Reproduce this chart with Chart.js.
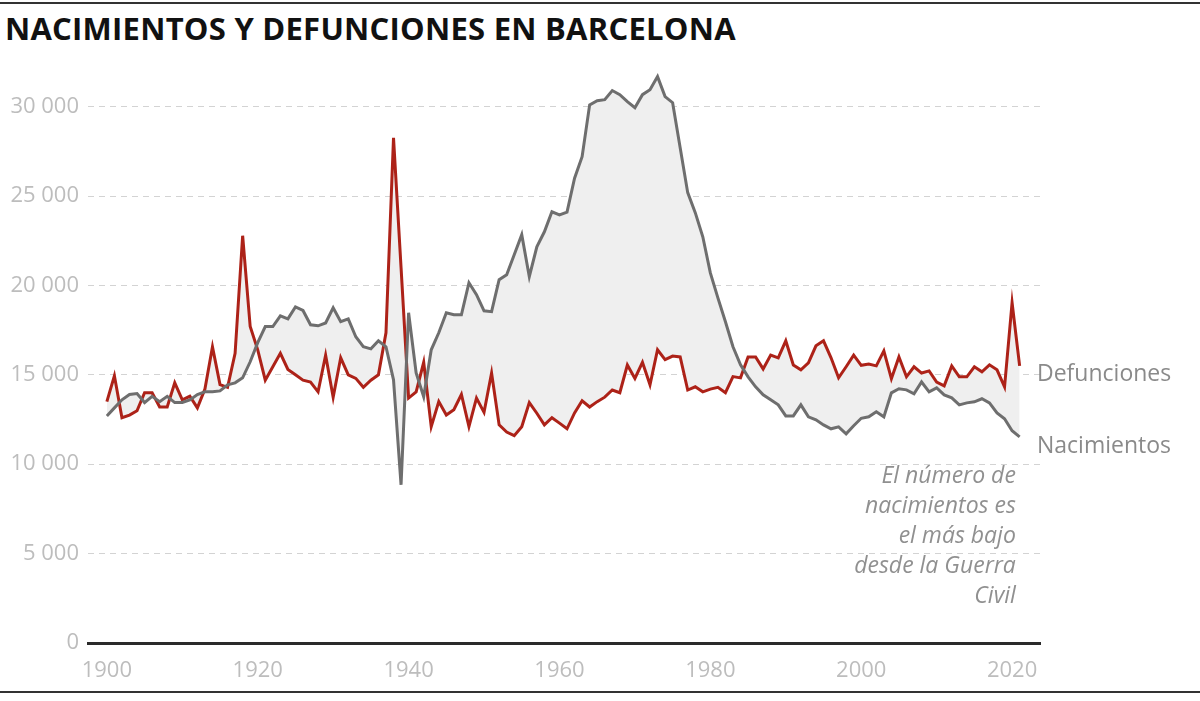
<!DOCTYPE html>
<html>
<head>
<meta charset="utf-8">
<script src="https://cdn.jsdelivr.net/npm/chart.js@4.4.1/dist/chart.umd.min.js"></script>
<style>
  html, body { margin: 0; padding: 0; background: #fff; }
  body { width: 1200px; height: 701px; position: relative; overflow: hidden; font-family: "Open Sans", sans-serif; }
  #topRule { position: absolute; left: 0; top: 2px; width: 1200px; height: 2px; background: #333; }
  #bottomRule { position: absolute; left: 0; top: 691px; width: 1200px; height: 2px; background: #333; }
  #title { position: absolute; left: 5px; top: 7px; font-size: 31px; font-weight: 700; color: #111;
           white-space: nowrap; letter-spacing: 0.25px; }
  #wrap { position: absolute; left: 0; top: 0; width: 1200px; height: 701px; }
</style>
</head>
<body>
<div id="topRule"></div>
<div id="title">NACIMIENTOS Y DEFUNCIONES EN BARCELONA</div>
<div id="wrap"><canvas id="chart" width="1200" height="701"></canvas></div>
<div id="bottomRule"></div>
<script>
const years = [
  1900, 1901, 1902, 1903, 1904, 1905, 1906, 1907, 1908, 1909,
  1910, 1911, 1912, 1913, 1914, 1915, 1916, 1917, 1918, 1919,
  1920, 1921, 1922, 1923, 1924, 1925, 1926, 1927, 1928, 1929,
  1930, 1931, 1932, 1933, 1934, 1935, 1936, 1937, 1938, 1939,
  1940, 1941, 1942, 1943, 1944, 1945, 1946, 1947, 1948, 1949,
  1950, 1951, 1952, 1953, 1954, 1955, 1956, 1957, 1958, 1959,
  1960, 1961, 1962, 1963, 1964, 1965, 1966, 1967, 1968, 1969,
  1970, 1971, 1972, 1973, 1974, 1975, 1976, 1977, 1978, 1979,
  1980, 1981, 1982, 1983, 1984, 1985, 1986, 1987, 1988, 1989,
  1990, 1991, 1992, 1993, 1994, 1995, 1996, 1997, 1998, 1999,
  2000, 2001, 2002, 2003, 2004, 2005, 2006, 2007, 2008, 2009,
  2010, 2011, 2012, 2013, 2014, 2015, 2016, 2017, 2018, 2019,
  2020, 2021
];

// nacimientos (gris)
const nacimientos = [
  12700, 13150, 13600, 13900, 13950, 13450, 13800, 13500, 13800, 13450,
  13450, 13600, 13900, 14050, 14050, 14100, 14440, 14550, 14830, 15730,
  16800, 17700, 17700, 18300, 18130, 18800, 18600, 17800, 17740, 17900,
  18750, 17970, 18130, 17130, 16570, 16450, 16900, 16570, 14720, 8850,
  18470, 15100, 13770, 16400, 17350, 18470, 18360, 18360, 20150, 19480,
  18580, 18530, 20320, 20600, 21720, 22840, 20490, 22160, 23000, 24120,
  23950, 24100, 26000, 27200, 30100, 30330, 30390, 30900, 30670, 30280,
  29940, 30670, 30950, 31680, 30560, 30220, 27700, 25190, 24070, 22720,
  20700, 19300, 17970, 16570, 15560, 14890, 14330, 13880, 13600, 13320,
  12700, 12700, 13320, 12650, 12480, 12200, 11980, 12090, 11700, 12150,
  12570, 12650, 12930, 12650, 13990, 14220, 14160, 13940, 14600, 14050,
  14270, 13880, 13710, 13320, 13430, 13490, 13660, 13430, 12870, 12540,
  11870, 11530
];

// defunciones (rojo)
const defunciones = [
  13500, 14950, 12600, 12750, 12990, 14000, 14000, 13200, 13200, 14550,
  13600, 13800, 13150, 14200, 16560, 14450, 14300, 16200, 22780, 17700,
  16400, 14700, 15450, 16200, 15300, 15000, 14700, 14600, 14050, 16100,
  13750, 15950, 15000, 14800, 14300, 14700, 15000, 17350, 28260, 21000,
  13700, 14050, 15700, 12100, 13500, 12750, 13050, 13900, 12100, 13700,
  12900, 15100, 12200, 11800, 11600, 12100, 13450, 12850, 12200, 12600,
  12300, 11980, 12870, 13550, 13200, 13500, 13750, 14150, 14000, 15550,
  14800, 15700, 14440, 16400, 15850, 16050, 16000, 14150, 14330, 14050,
  14200, 14300, 14000, 14900, 14830, 16000, 16000, 15330, 16100, 15950,
  16900, 15550, 15280, 15670, 16620, 16900, 15950, 14830, 15450, 16100,
  15530, 15600, 15500, 16340, 14780, 16000, 14890, 15450, 15100, 15220,
  14600, 14380, 15500, 14890, 14890, 15450, 15170, 15560, 15280, 14330,
  19030, 15500
];

const xTicks = [1900, 1920, 1940, 1960, 1980, 2000, 2020];
const yTicks = [0, 5000, 10000, 15000, 20000, 25000, 30000];

const seriesLabels = ["Defunciones", "Nacimientos"];
const seriesLabelValues = [15000, 11000];
const noteLines = ["El número de", "nacimientos es", "el más bajo", "desde la Guerra", "Civil"];
const noteAnchor = { year: 2020.5, value: 9300 };

function fmt(v) {
  return String(v).replace(/\B(?=(\d{3})+(?!\d))/g, " ");
}

const textPlugin = {
  id: "textPlugin",
  afterDraw(chart) {
    const ctx = chart.ctx;
    const xs = chart.scales.x;
    const ys = chart.scales.y;
    ctx.save();
    ctx.textBaseline = "middle";
    ctx.font = '23px "Open Sans"';
    ctx.fillStyle = "#8a8a8a";
    ctx.textAlign = "left";
    seriesLabels.forEach((t, i) => {
      ctx.fillText(t, chart.chartArea.right - 3, ys.getPixelForValue(seriesLabelValues[i]));
    });
    ctx.font = 'italic 23px "Open Sans"';
    ctx.fillStyle = "#909090";
    ctx.textAlign = "right";
    const nx = xs.getPixelForValue(noteAnchor.year);
    const ny = ys.getPixelForValue(noteAnchor.value);
    noteLines.forEach((t, i) => {
      ctx.fillText(t, nx, ny + i * 30);
    });
    ctx.restore();
  }
};

const ctx = document.getElementById("chart").getContext("2d");
new Chart(ctx, {
  type: "line",
  data: {
    datasets: [
      {
        label: "Nacimientos",
        data: years.map((y, i) => ({ x: y, y: nacimientos[i] })),
        borderColor: "#6e6e6e",
        borderWidth: 3,
        pointRadius: 0,
        tension: 0,
        fill: false
      },
      {
        label: "Defunciones",
        data: years.map((y, i) => ({ x: y, y: defunciones[i] })),
        borderColor: "#ad2218",
        borderWidth: 3,
        pointRadius: 0,
        tension: 0,
        fill: { target: 0, above: "#efefef", below: "#efefef" }
      }
    ]
  },
  options: {
    responsive: false,
    animation: false,
    layout: { padding: { left: 0, top: 53, right: 160, bottom: 0 } },
    plugins: {
      legend: { display: false },
      tooltip: { enabled: false },
      filler: { drawTime: "beforeDatasetsDraw" }
    },
    scales: {
      x: {
        type: "linear",
        min: 1897.5,
        max: 2023.7,
        afterFit(scale) { scale.height = 58; },
        afterBuildTicks(scale) { scale.ticks = xTicks.map(v => ({ value: v })); },
        grid: { display: false, drawTicks: false },
        border: { display: true, color: "#2a2a2a", width: 3 },
        ticks: {
          padding: 15,
          color: "#bdbdbd",
          font: { family: "Open Sans", size: 22 },
          callback: v => String(v),
          maxRotation: 0
        }
      },
      y: {
        min: 0,
        max: 33000,
        afterFit(scale) { scale.width = 88; },
        afterBuildTicks(scale) { scale.ticks = yTicks.map(v => ({ value: v })); },
        grid: {
          color: (c) => c.tick && c.tick.value === 0 ? "rgba(0,0,0,0)" : "#d3d3d3",
          lineWidth: 1,
          drawTicks: false
        },
        border: { display: false, dash: [6, 5] },
        ticks: {
          padding: 9,
          color: "#bdbdbd",
          font: { family: "Open Sans", size: 22 },
          callback: v => fmt(v)
        }
      }
    }
  },
  plugins: [textPlugin]
});
</script>
</body>
</html>
